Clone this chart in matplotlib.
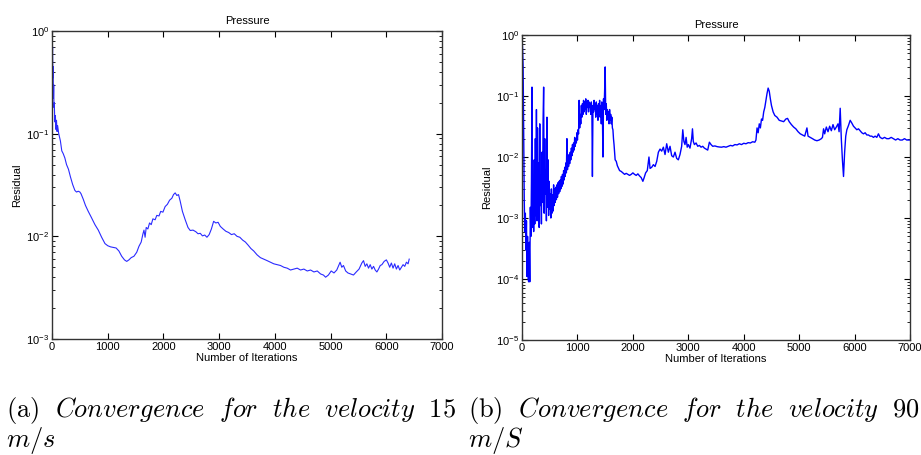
import matplotlib
matplotlib.use("Agg")
import matplotlib.pyplot as plt
from matplotlib.ticker import LogLocator, NullFormatter

plt.rcParams['font.family'] = ['Liberation Sans', 'DejaVu Sans']

# left panel: velocity 15 m/s
it_a = [0, 5, 10, 15, 20, 25, 30, 35, 40, 50, 60, 70, 80, 90, 100, 120, 150, 175, 200, 230,
        260, 295, 330, 370, 410, 440, 470, 500, 520, 560, 600, 650, 700, 770, 830, 890, 950, 1000,
        1050, 1100, 1150, 1200, 1250, 1300, 1340, 1380, 1420, 1470, 1520, 1560, 1600, 1630, 1650,
        1670, 1690, 1720, 1750, 1780, 1810, 1850, 1880, 1920, 1950, 1990, 2030, 2070, 2110, 2150,
        2180, 2210, 2240, 2270, 2300, 2340, 2390, 2440, 2480, 2530, 2580, 2620, 2660, 2700, 2740,
        2780, 2820, 2860, 2900, 2940, 2980, 3020, 3070, 3120, 3170, 3220, 3270, 3320, 3370, 3420,
        3470, 3520, 3570, 3620, 3680, 3740, 3800, 3860, 3920, 3980, 4040, 4100, 4160, 4220, 4280,
        4340, 4400, 4460, 4520, 4580, 4640, 4700, 4760, 4820, 4870, 4910, 4960, 5010, 5060, 5110,
        5150, 5170, 5200, 5230, 5270, 5310, 5360, 5410, 5460, 5510, 5560, 5590, 5620, 5650, 5680,
        5710, 5740, 5770, 5800, 5830, 5860, 5890, 5920, 5960, 6000, 6030, 6060, 6090, 6120, 6150,
        6180, 6210, 6240, 6270, 6300, 6330, 6360, 6390, 6410]
res_a = [0.85, 0.55, 0.7, 0.35, 0.45, 0.22, 0.3, 0.18, 0.2, 0.13, 0.15, 0.11, 0.135, 0.105, 0.12,
         0.1, 0.085, 0.068, 0.064, 0.058, 0.05, 0.045, 0.038, 0.032, 0.028, 0.027, 0.0275, 0.027,
         0.026, 0.023, 0.020, 0.0175, 0.0155, 0.013, 0.0115, 0.0098, 0.0085, 0.0081, 0.0079, 0.0078,
         0.0077, 0.0072, 0.0064, 0.0059, 0.0057, 0.0059, 0.0062, 0.0064, 0.0070, 0.0080, 0.0088,
         0.0105, 0.0115, 0.0098, 0.0122, 0.0118, 0.0135, 0.0130, 0.0148, 0.0145, 0.0160, 0.0158,
         0.0175, 0.0172, 0.0195, 0.0205, 0.0225, 0.0235, 0.0255, 0.0265, 0.0250, 0.0255, 0.0220,
         0.0175, 0.0145, 0.0122, 0.0114, 0.0115, 0.0111, 0.0106, 0.0107, 0.0101, 0.0103, 0.0098,
         0.0104, 0.0118, 0.0140, 0.0135, 0.0137, 0.0125, 0.0118, 0.0112, 0.0109, 0.0104, 0.0106,
         0.0100, 0.0098, 0.0092, 0.0088, 0.0082, 0.0076, 0.0072, 0.0066, 0.0062, 0.0060, 0.0058,
         0.0056, 0.0054, 0.0053, 0.0052, 0.0050, 0.0049, 0.0047, 0.0048, 0.0049, 0.0047, 0.0048,
         0.0046, 0.0047, 0.0045, 0.0046, 0.0043, 0.0042, 0.0040, 0.0042, 0.0046, 0.0044, 0.0047,
         0.0053, 0.0056, 0.0050, 0.0052, 0.0046, 0.0044, 0.0043, 0.0042, 0.0045, 0.0048, 0.0055,
         0.0058, 0.0051, 0.0054, 0.0049, 0.0053, 0.0048, 0.0051, 0.0047, 0.0045, 0.0048, 0.0052,
         0.0053, 0.0057, 0.0059, 0.0055, 0.0050, 0.0055, 0.0049, 0.0054, 0.0048, 0.0052, 0.0047,
         0.0050, 0.0053, 0.0051, 0.0056, 0.0054, 0.0060]

# right panel: velocity 90 m/s (very noisy start, read every 10 iterations up to 1680)
it_b = [0, 10, 20, 30, 40, 50, 60, 70, 80, 90, 100, 110, 120, 130, 140, 150, 160, 170, 180, 190,
        200, 210, 220, 230, 240, 250, 260, 270, 280, 290, 300, 310, 320, 330, 340, 350, 360, 370,
        380, 390, 400, 410, 420, 430, 440, 450, 460, 470, 480, 490, 500, 510, 520, 530, 540, 550,
        560, 570, 580, 590, 600, 610, 620, 630, 640, 650, 660, 670, 680, 690, 700, 710, 720, 730,
        740, 750, 760, 770, 780, 790, 800, 810, 820, 830, 840, 850, 860, 870, 880, 890, 900, 910,
        920, 930, 940, 950, 960, 970, 980, 990, 1000, 1010, 1020, 1030, 1040, 1050, 1060, 1070,
        1080, 1090, 1100, 1110, 1120, 1130, 1140, 1150, 1160, 1170, 1180, 1190, 1200, 1210, 1220,
        1230, 1240, 1250, 1260, 1270, 1280, 1290, 1300, 1310, 1320, 1330, 1340, 1350, 1360, 1370,
        1380, 1390, 1400, 1410, 1420, 1430, 1440, 1450, 1460, 1470, 1480, 1490, 1500, 1510, 1520,
        1530, 1540, 1550, 1560, 1570, 1580, 1590, 1600, 1610, 1620, 1630, 1640, 1650, 1660, 1670,
        1680, 1700, 1720, 1740, 1760, 1790, 1820, 1850, 1880,
        1910, 1940, 1970, 2000, 2030, 2060, 2090, 2120, 2150, 2180, 2200, 2230, 2260, 2290, 2310,
        2340, 2370, 2400, 2430, 2460, 2490, 2520, 2550, 2580, 2610, 2640, 2670, 2700, 2730, 2760,
        2790, 2820, 2850, 2880, 2900, 2920, 2940, 2960, 2980, 3000, 3030, 3060, 3075, 3090, 3110,
        3140, 3170, 3200, 3230, 3260, 3290, 3320, 3350, 3380, 3410, 3440, 3480, 3520, 3560, 3600,
        3640, 3680, 3720, 3760, 3800, 3840, 3880, 3920, 3960, 4000, 4040, 4080, 4120, 4160, 4200,
        4220, 4240, 4260, 4280, 4300, 4320, 4340, 4360, 4380, 4400, 4420, 4440, 4460, 4480, 4500,
        4530, 4560, 4600, 4640, 4680, 4720, 4760, 4790, 4820, 4860, 4900, 4940, 4980, 5020, 5060,
        5100, 5140, 5160, 5200, 5240, 5280, 5320, 5360, 5400, 5420, 5440, 5460, 5490, 5520, 5550,
        5580, 5610, 5640, 5670, 5700, 5720, 5740, 5760, 5780, 5800, 5820, 5840, 5860, 5890, 5920,
        5950, 5980, 6010, 6040, 6070, 6100, 6130, 6160, 6190, 6220, 6250, 6280, 6310, 6340, 6370,
        6400, 6430, 6460, 6500, 6540, 6580, 6620, 6660, 6700, 6740, 6780, 6820, 6860, 6900, 6940,
        7000]
res_b = [0.9, 0.6, 0.3, 0.02, 0.002, 0.0006, 0.0012, 0.0003, 0.0009, 0.00011, 0.0005, 0.0001,
         0.00009, 0.0004, 0.00009, 0.0015, 0.0005, 0.004, 0.14, 0.0007, 0.003, 0.0006, 0.009,
         0.0008, 0.02, 0.0011, 0.06, 0.0009, 0.03, 0.0013, 0.008, 0.0007, 0.035, 0.0016, 0.005,
         0.0008, 0.012, 0.0018, 0.04, 0.14, 0.0012, 0.02, 0.0025, 0.006, 0.0009, 0.045, 0.0015,
         0.009, 0.0011, 0.004, 0.0014, 0.0025, 0.0010, 0.003, 0.0012, 0.0024, 0.0013, 0.0035,
         0.0016, 0.003, 0.0018, 0.0032, 0.002, 0.0035, 0.0022, 0.0038, 0.0025, 0.004, 0.0027,
         0.0042, 0.003, 0.0048, 0.0033, 0.0052, 0.0036, 0.006, 0.0042, 0.0068, 0.0048, 0.008,
         0.0055, 0.02, 0.0062, 0.0095, 0.007, 0.011, 0.0078, 0.012, 0.009, 0.014, 0.0105, 0.016,
         0.012, 0.017, 0.013, 0.021, 0.015, 0.02, 0.017, 0.025, 0.019, 0.028, 0.024, 0.085, 0.03,
         0.05, 0.035, 0.07, 0.045, 0.075, 0.05, 0.085, 0.055, 0.08, 0.06, 0.09, 0.05, 0.08, 0.065,
         0.085, 0.055, 0.08, 0.065, 0.075, 0.05, 0.08, 0.06, 0.0048, 0.07, 0.055, 0.085, 0.06,
         0.075, 0.045, 0.08, 0.05, 0.07, 0.04, 0.075, 0.055, 0.085, 0.045, 0.07, 0.035, 0.08,
         0.05, 0.01, 0.09, 0.06, 0.12, 0.30, 0.05, 0.075, 0.04, 0.06, 0.045, 0.055, 0.035, 0.06,
         0.04, 0.05, 0.035, 0.045, 0.03, 0.028, 0.02, 0.016, 0.012, 0.009,
         0.0085, 0.0072, 0.0066, 0.0060, 0.0058, 0.0055, 0.0052, 0.0054,
         0.0052, 0.0050,
         0.0052, 0.0055, 0.0052, 0.0050, 0.0053, 0.0049, 0.0046, 0.0040, 0.0045, 0.0055, 0.0060,
         0.0100, 0.0065, 0.0068, 0.0075, 0.0070, 0.0085, 0.0120, 0.0135, 0.0125, 0.0145, 0.0110,
         0.0165, 0.0120, 0.0150, 0.0105, 0.0100, 0.0120, 0.0095, 0.0090, 0.0110, 0.0150, 0.0280,
         0.0180, 0.0160, 0.0210, 0.0145, 0.0160, 0.0140, 0.0200, 0.0290, 0.0180, 0.0160, 0.0170,
         0.0150, 0.0155, 0.0145, 0.0150, 0.0140, 0.0135, 0.0130, 0.0175, 0.0160, 0.0150, 0.0152,
         0.0148, 0.0146, 0.0145, 0.0148, 0.0145, 0.0150, 0.0155, 0.0152, 0.0160, 0.0158, 0.0165,
         0.0160, 0.0168, 0.0165, 0.0172, 0.0170, 0.0178, 0.0175, 0.0190, 0.030, 0.025, 0.035,
         0.030, 0.042, 0.040, 0.055, 0.065, 0.085, 0.110, 0.135, 0.120, 0.090, 0.070, 0.055, 0.048,
         0.045, 0.040, 0.039, 0.038, 0.042, 0.043, 0.038, 0.034, 0.031, 0.029, 0.026, 0.024, 0.023,
         0.022, 0.030, 0.022, 0.021, 0.020, 0.019, 0.0185, 0.019, 0.020, 0.021, 0.029, 0.024, 0.031,
         0.026, 0.032, 0.027, 0.034, 0.028, 0.031, 0.035, 0.026, 0.063, 0.020, 0.009, 0.0048, 0.012,
         0.022, 0.028, 0.033, 0.040, 0.036, 0.032, 0.030, 0.028, 0.029, 0.027, 0.025, 0.024, 0.025,
         0.023, 0.023, 0.022, 0.022, 0.021, 0.022, 0.021, 0.024, 0.021, 0.020, 0.021, 0.020, 0.020,
         0.021, 0.020, 0.019, 0.020, 0.019, 0.019, 0.020, 0.019, 0.019]

xticks = [0, 1000, 2000, 3000, 4000, 5000, 6000, 7000]

fig = plt.figure(figsize=(9.21, 4.55), dpi=100)
ax1 = fig.add_axes([0.0565, 0.2549, 0.4235, 0.677])
ax2 = fig.add_axes([0.5668, 0.2527, 0.4213, 0.6703])

ax1.semilogy(it_a, res_a, color='#2a2aff', lw=0.8)
ax1.set_ylim(1e-3, 1)
ax2.semilogy(it_b, res_b, color='#0000ff', lw=1.0)
ax2.set_ylim(1e-5, 1)

for ax in (ax1, ax2):
    ax.set_xlim(0, 7000)
    ax.set_xticks(xticks)
    ax.yaxis.set_major_locator(LogLocator(base=10, numticks=10))
    ax.yaxis.set_minor_locator(LogLocator(base=10, subs=range(2, 10), numticks=10))
    ax.yaxis.set_minor_formatter(NullFormatter())
    ax.tick_params(which='both', direction='in', top=True, right=True, labelsize=8, pad=2)
    ax.tick_params(which='major', length=4, width=0.8)
    ax.tick_params(which='minor', length=2.5, width=0.6)
    for s in ax.spines.values():
        s.set_linewidth(1.0)
        s.set_color('#333333')
    ax.set_title('Pressure', fontsize=8, pad=5)
    ax.set_xlabel('Number of Iterations', fontsize=8, labelpad=1)
    ax.set_ylabel('Residual', fontsize=8, labelpad=3)

cap_a = r"$\mathrm{(a)}\ \ \mathit{Convergence\ \ for\ \ the\ \ velocity\ \ 15}$"
cap_b = r"$\mathrm{(b)}\ \ \mathit{Convergence\ \ for\ \ the\ \ velocity\ \ 90}$"
fig.text(0.006, 0.083, cap_a, fontsize=19, math_fontfamily='cm', va='baseline')
fig.text(0.006, 0.018, r"$\mathit{m/s}$", fontsize=19, math_fontfamily='cm', va='baseline')
fig.text(0.508, 0.083, cap_b, fontsize=19, math_fontfamily='cm', va='baseline')
fig.text(0.508, 0.018, r"$\mathit{m/S}$", fontsize=19, math_fontfamily='cm', va='baseline')

fig.savefig('out.png', dpi=100)
